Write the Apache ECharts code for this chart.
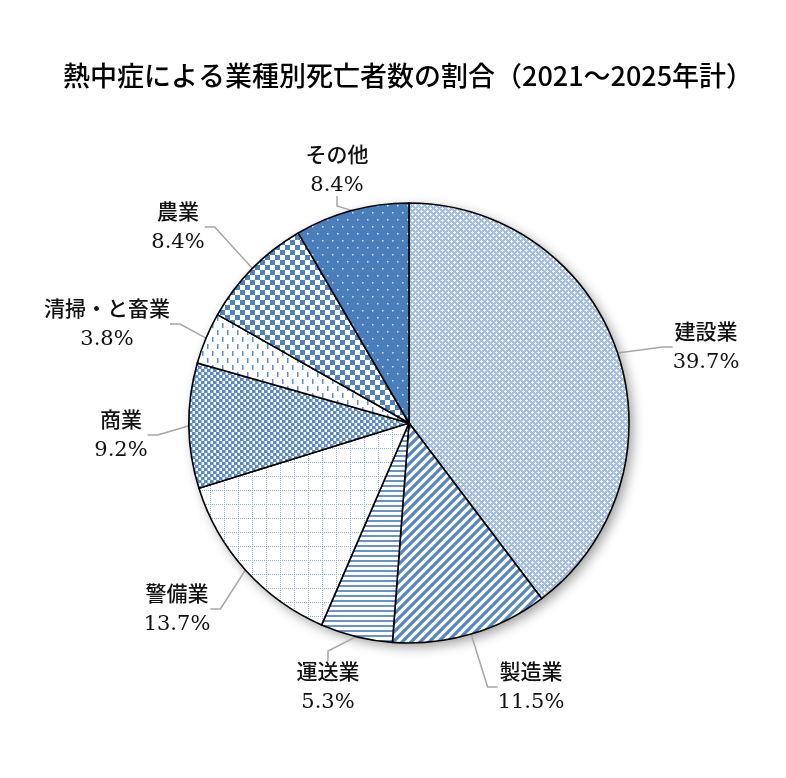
<!DOCTYPE html>
<html><head><meta charset="utf-8">
<script src="https://cdn.jsdelivr.net/npm/echarts@6/dist/echarts.min.js"></script>
<style>html,body{margin:0;padding:0;background:#fff}#c{width:786px;height:778px}</style>
</head><body><div id="c"></div>
<script>
const titleText = '熱中症による業種別死亡者数の割合（2021～2025年計）';
const categories = ['建設業', '製造業', '運送業', '警備業', '商業', '清掃・と畜業', '農業', 'その他'];
const shares = [39.7, 11.5, 5.3, 13.7, 9.2, 3.8, 8.4, 8.4];

// label block centres (layout only, pixels)
const labelCenters = [[706, 347], [531, 687], [328, 687], [177, 609], [121, 435], [107, 324], [178, 227], [337, 170]];

const BLUE = '#4f81bd';
function tile(w, h, draw) {
  const c = document.createElement('canvas');
  c.width = w; c.height = h;
  const g = c.getContext('2d');
  g.fillStyle = '#ffffff'; g.fillRect(0, 0, w, h);
  draw(g, w, h);
  return { image: c, repeat: 'repeat' };
}
const patterns = [
  // 建設業: light blue lattice with white crosses
  tile(6, 6, g => {
    g.fillStyle = '#a3bfe6'; g.fillRect(0, 0, 6, 6);
    g.fillStyle = '#ffffff';
    [[1, 1], [4, 4]].forEach(([x, y]) => { g.fillRect(x, y - 1, 1, 3); g.fillRect(x - 1, y, 3, 1); });
  }),
  // 製造業: diagonal stripes
  tile(9, 9, g => {
    g.strokeStyle = '#5687c5'; g.lineWidth = 3.2; g.beginPath();
    [-9, 0, 9].forEach(k => { g.moveTo(k - 1, 10); g.lineTo(k + 10, -1); });
    g.stroke();
  }),
  // 運送業: horizontal stripes
  tile(4, 5, g => { g.fillStyle = '#6792cb'; g.fillRect(0, 0, 4, 2); }),
  // 警備業: dotted grid
  tile(14, 14, g => {
    g.fillStyle = '#8eb0de';
    for (let i = 0; i < 14; i += 2) { g.fillRect(i, 0, 1, 1); g.fillRect(0, i, 1, 1); }
  }),
  // 商業: staircase dots
  tile(6, 6, g => {
    g.fillStyle = '#5b8ac7';
    g.fillRect(0, 0, 3, 3); g.fillRect(3, 3, 3, 3);
    g.fillStyle = '#9ab8e2';
    g.fillRect(3, 0, 1, 3); g.fillRect(0, 3, 1, 3);
  }),
  // 清掃・と畜業: short vertical dashes
  tile(10, 14, g => {
    g.fillStyle = '#5f8dc8';
    g.fillRect(2, 1, 1.5, 5); g.fillRect(7, 8, 1.5, 5);
  }),
  // 農業: checkerboard
  tile(10, 10, g => {
    g.fillStyle = BLUE; g.fillRect(0, 0, 5, 5); g.fillRect(5, 5, 5, 5);
  }),
  // その他: solid blue with light dots
  tile(10, 14, g => {
    g.fillStyle = '#4a7ebb'; g.fillRect(0, 0, 10, 14);
    g.fillStyle = '#d6e2f2'; g.fillRect(2, 2, 1.5, 1.5); g.fillRect(7, 9, 1.5, 1.5);
  })
];

const CJK = "'Noto Sans CJK JP'";
const chart = echarts.init(document.getElementById('c'));
chart.setOption({
  animation: false,
  backgroundColor: '#ffffff',
  title: {
    text: titleText, left: 58, top: 57,
    textStyle: { fontSize: 27, fontWeight: 500, color: '#000', fontFamily: CJK }
  },
  series: [
    {
      type: 'pie', center: [409, 423], radius: 220, silent: true, z: 1,
      data: [{ value: 1, name: '' }],
      label: { show: false }, labelLine: { show: false },
      itemStyle: { color: '#ffffff', shadowBlur: 12, shadowOffsetX: 4, shadowOffsetY: 4, shadowColor: 'rgba(0,0,0,0.38)' }
    },
    {
      type: 'pie', center: [409, 423], radius: 220, startAngle: 90, clockwise: true, z: 2,
      data: categories.map((n, i) => ({ name: n, value: shares[i], itemStyle: { color: patterns[i] } })),
      itemStyle: { borderColor: '#000', borderWidth: 1.6 },
      emphasis: { disabled: true },
      label: {
        show: true, position: 'outside', color: '#000',
        formatter: p => '{n|' + p.name + '}\n{v|' + shares[p.dataIndex].toFixed(1) + '%}',
        rich: {
          n: { fontFamily: CJK, fontSize: 21, fontWeight: 500, lineHeight: 31, color: '#111' },
          v: { fontFamily: "'DejaVu Serif'", fontSize: 21, lineHeight: 31, color: '#111' }
        }
      },
      labelLine: { show: true, length: 10, length2: 10, lineStyle: { color: '#a6a6a6', width: 1.5 } },
      labelLayout: p => ({
        x: labelCenters[p.dataIndex][0], y: labelCenters[p.dataIndex][1],
        align: 'center', verticalAlign: 'middle', hideOverlap: false, moveOverlap: null
      })
    }
  ]
});
</script></body></html>
